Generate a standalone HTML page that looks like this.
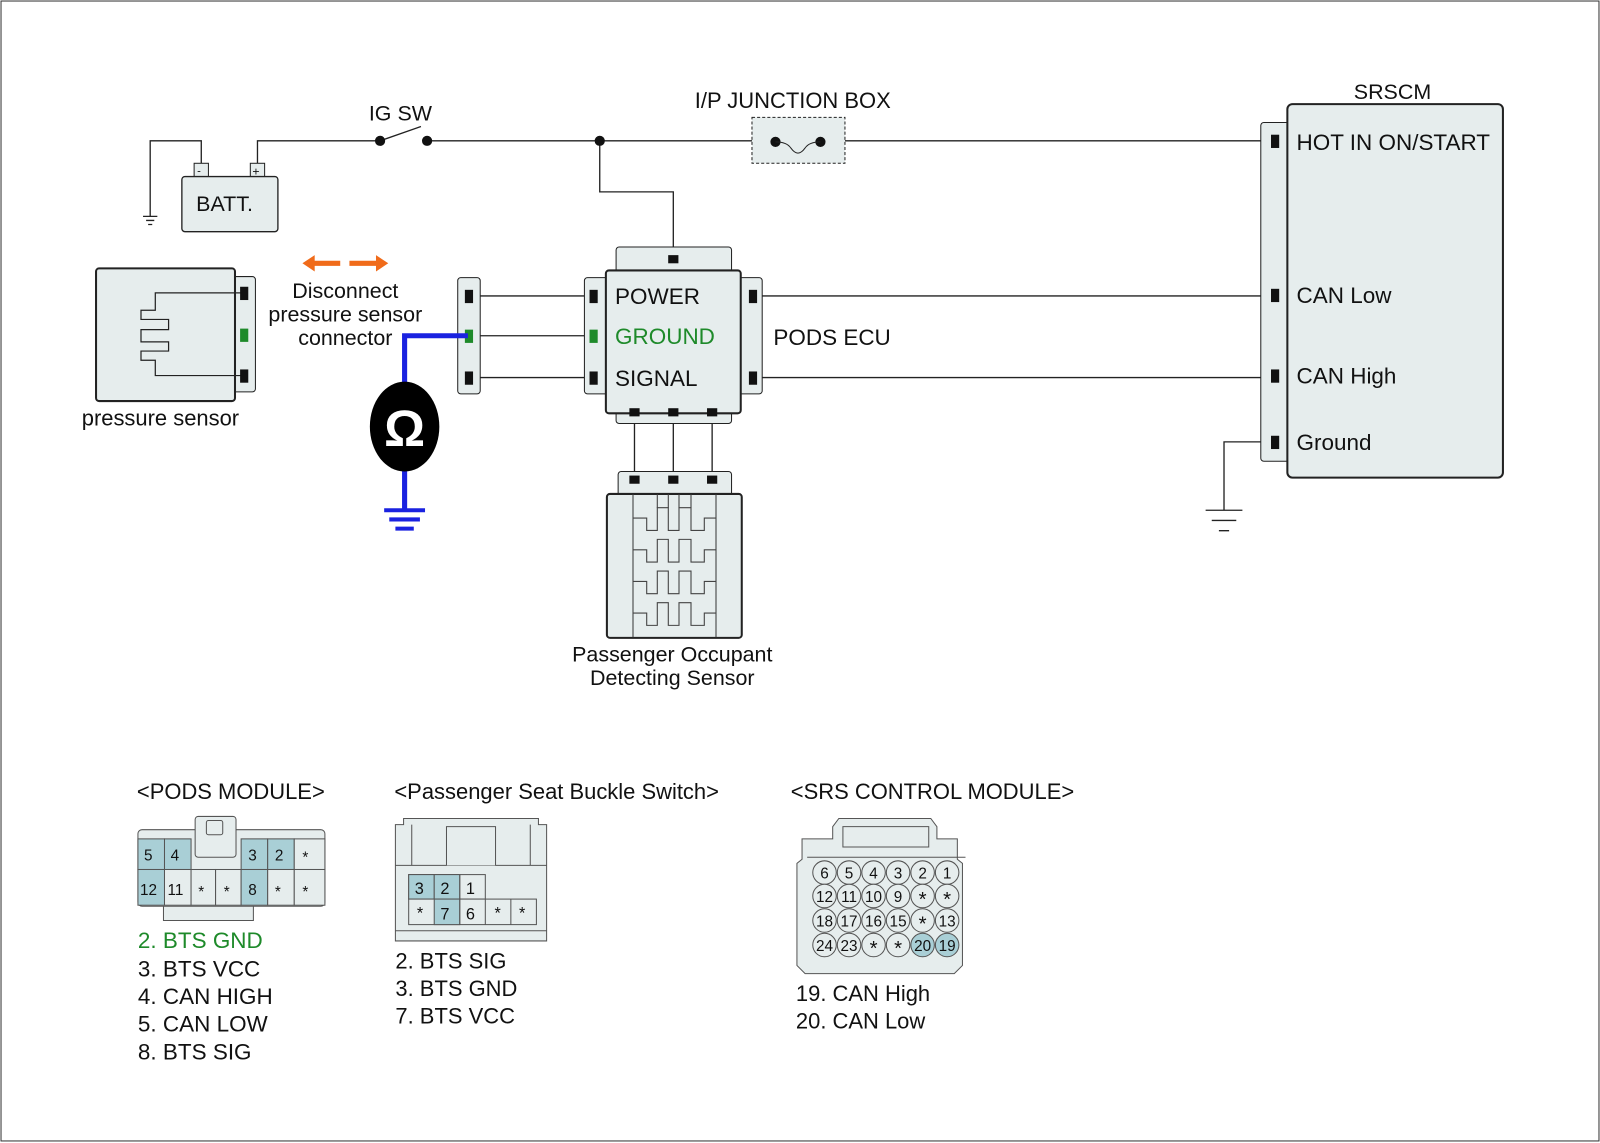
<!DOCTYPE html>
<html><head><meta charset="utf-8"><style>html,body{margin:0;padding:0;background:#fff}svg{display:block}text{font-family:"Liberation Sans",sans-serif;fill:#111}</style></head><body>
<svg width="1600" height="1143" viewBox="0 0 1566 1120" preserveAspectRatio="none" xmlns="http://www.w3.org/2000/svg">
<rect x="1" y="1" width="1564" height="1117" fill="#fff" stroke="#333" stroke-width="1"/>
<g stroke="#222" stroke-width="1.3" fill="none">
<path d="M197 160V138H147V212"/><path d="M140 212h14M143 216h8M145 220h4"/>
<path d="M252 160V138H372"/><path d="M372 138L412 124"/>
<path d="M418 138H736"/><path d="M827 138H1240"/>
<path d="M587 138V188H659V250"/>
<path d="M470 290H580M470 329H580M470 370H580"/>
<path d="M746 290H1240M746 370H1240"/>
<path d="M1248 433H1198V500"/><path d="M1180 500h36M1186 510h24M1193 520h10"/>
<path d="M621 404V470M659 404V470M697 404V470"/>
</g>
<!-- battery -->
<rect x="190" y="160" width="14" height="14" fill="#e6eded" stroke="#222"/><rect x="245" y="160" width="14" height="14" fill="#e6eded" stroke="#222"/>
<text x="193" y="171" font-size="11">-</text><text x="247" y="172" font-size="12">+</text>
<rect x="178" y="173" width="94" height="54" rx="3" fill="#e6eded" stroke="#222" stroke-width="1.3"/>
<text x="192" y="207" font-size="21">BATT.</text>
<circle cx="372" cy="138" r="5" fill="#111"/><circle cx="418" cy="138" r="5" fill="#111"/><circle cx="587" cy="138" r="5" fill="#111"/>
<text x="361" y="118" font-size="21">IG SW</text>
<text x="680" y="106" font-size="21.5">I/P JUNCTION BOX</text>
<rect x="736" y="115" width="91" height="45" fill="#e6eded" stroke="#222" stroke-dasharray="3,2"/>
<circle cx="759" cy="139" r="5" fill="#111"/><circle cx="803" cy="139" r="5" fill="#111"/>
<path d="M759 139 Q770 139 774 145 Q781 155 788 145 Q792 139 803 139" stroke="#222" fill="none"/>
<!-- SRSCM -->
<text x="1325" y="97" font-size="21">SRSCM</text>
<rect x="1234" y="120" width="30" height="332" rx="3" fill="#e6eded" stroke="#222"/>
<rect x="1260" y="102" width="211" height="366" rx="5" fill="#e6eded" stroke="#222" stroke-width="2"/>
<g fill="#111"><rect x="1244" y="132" width="8" height="13"/><rect x="1244" y="283" width="8" height="13"/><rect x="1244" y="362" width="8" height="13"/><rect x="1244" y="427" width="8" height="13"/></g>
<g font-size="22"><text x="1269" y="147">HOT IN ON/START</text><text x="1269" y="297">CAN Low</text><text x="1269" y="376">CAN High</text><text x="1269" y="441">Ground</text></g>
<!-- PODS ECU -->
<rect x="603" y="242" width="113" height="30" rx="3" fill="#e6eded" stroke="#222"/>
<rect x="572" y="272" width="30" height="114" rx="3" fill="#e6eded" stroke="#222"/>
<rect x="716" y="272" width="30" height="114" rx="3" fill="#e6eded" stroke="#222"/>
<rect x="603" y="395" width="113" height="20" rx="3" fill="#e6eded" stroke="#222"/>
<rect x="593" y="265" width="132" height="140" rx="3" fill="#e6eded" stroke="#222" stroke-width="2"/>
<g fill="#111"><rect x="654" y="250" width="10" height="8"/><rect x="577" y="284" width="8" height="13"/><rect x="577" y="364" width="8" height="13"/><rect x="733" y="284" width="8" height="13"/><rect x="733" y="364" width="8" height="13"/><rect x="616" y="400" width="10" height="8"/><rect x="654" y="400" width="10" height="8"/><rect x="692" y="400" width="10" height="8"/></g>
<rect x="577" y="323" width="8" height="13" fill="#1e8a2a"/>
<text x="602" y="298" font-size="22">POWER</text><text x="602" y="337" font-size="22" style="fill:#1e8a2a">GROUND</text><text x="602" y="378" font-size="22">SIGNAL</text>
<text x="757" y="338" font-size="22">PODS ECU</text>
<!-- occupant sensor -->
<rect x="605" y="462" width="111" height="26" rx="3" fill="#e6eded" stroke="#222"/>
<g fill="#111"><rect x="616" y="466" width="10" height="8"/><rect x="654" y="466" width="10" height="8"/><rect x="692" y="466" width="10" height="8"/></g>
<rect x="594" y="484" width="132" height="141" rx="3" fill="#e6eded" stroke="#222" stroke-width="2"/>
<g transform="scale(0.97875)" stroke="#444" fill="none" stroke-width="1.1">
<path d="M633 495V638M716 495V638"/>
<path d="M657.3 495V508.3M668.3 495V508.3M679 495V508.3M691 495V508.3"/>
<path id="row" d="M633 518.7H646.7V531H657.3V508.3H668.3V531H679V508.3H691V531H704.3V518.7H716"/>
<use href="#row" y="31.7"/><use href="#row" y="63.4"/><use href="#row" y="95.1"/>
</g>
<text x="658" y="648" font-size="21" text-anchor="middle">Passenger Occupant</text><text x="658" y="671" font-size="21" text-anchor="middle">Detecting Sensor</text>
<!-- pressure sensor -->
<rect x="220" y="271" width="30" height="113" rx="3" fill="#e6eded" stroke="#222"/>
<rect x="94" y="263" width="136" height="130" rx="3" fill="#e6eded" stroke="#222" stroke-width="2"/>
<path d="M236 287H152V304H138V313H165V323H138V335H165V344H138V353H152V368H236" stroke="#222" fill="none" stroke-width="1.2"/>
<rect x="235" y="281" width="8" height="13" fill="#111"/><rect x="235" y="322" width="8" height="13" fill="#1e8a2a"/><rect x="235" y="362" width="8" height="13" fill="#111"/>
<text x="80" y="417" font-size="21.5">pressure sensor</text>
<!-- mid connector -->
<rect x="448" y="272" width="22" height="114" rx="3" fill="#e6eded" stroke="#222"/>
<rect x="455" y="284" width="8" height="13" fill="#111"/><rect x="455" y="323" width="8" height="13" fill="#1e8a2a"/><rect x="455" y="364" width="8" height="13" fill="#111"/>
<!-- orange arrows -->
<path d="M305 258h28M342 258h28" stroke="#f06b1a" stroke-width="5"/>
<path d="M296 258l12-8v16z M380 258l-12-8v16z" fill="#f06b1a"/>
<text x="338" y="292" font-size="21" text-anchor="middle">Disconnect</text><text x="338" y="315" font-size="21" text-anchor="middle">pressure sensor</text><text x="338" y="338" font-size="21" text-anchor="middle">connector</text>
<!-- blue meter -->
<path d="M458 329H396V500" stroke="#1a22e0" stroke-width="5" fill="none"/>
<path d="M376 500h40M381 509h30M387 518h18" stroke="#1a22e0" stroke-width="4"/>
<ellipse cx="396" cy="418" rx="34" ry="44" fill="#000"/>
<text x="396" y="437" font-size="50" font-weight="bold" text-anchor="middle" style="fill:#fff">Ω</text>
<!-- bottom connectors -->
<g font-size="21.5"><text x="134" y="783">&lt;PODS MODULE&gt;</text><text x="386" y="783">&lt;Passenger Seat Buckle Switch&gt;</text><text x="774" y="783">&lt;SRS CONTROL MODULE&gt;</text></g>
<!-- pods module -->
<g stroke="#555" stroke-width="1">
<path d="M160 888v14h88v-14" fill="#e6eded"/>
<rect x="135" y="813" width="183" height="75" rx="4" fill="#e6eded"/>
<rect x="191" y="800" width="40" height="40" rx="3" fill="#e6eded"/>
<rect x="202" y="804" width="16" height="14" rx="2" fill="#e6eded"/>
<rect x="135" y="822" width="26" height="30" fill="#a9cfd6"/><rect x="161" y="822" width="26" height="30" fill="#a9cfd6"/>
<rect x="135" y="852" width="26" height="35" fill="#a9cfd6"/><rect x="161" y="852" width="26" height="35" fill="#e6eded"/>
<rect x="187" y="852" width="24" height="35" fill="#e6eded"/><rect x="211" y="852" width="25" height="35" fill="#e6eded"/>
<rect x="236" y="822" width="26" height="30" fill="#a9cfd6"/><rect x="262" y="822" width="26" height="30" fill="#a9cfd6"/><rect x="288" y="822" width="30" height="30" fill="#e6eded"/>
<rect x="236" y="852" width="26" height="35" fill="#a9cfd6"/><rect x="262" y="852" width="26" height="35" fill="#e6eded"/><rect x="288" y="852" width="30" height="35" fill="#e6eded"/>
</g>
<g font-size="15"><text x="141" y="843">5</text><text x="167" y="843">4</text><text x="243" y="843">3</text><text x="269" y="843">2</text><text x="296" y="845">*</text>
<text x="137" y="877">12</text><text x="164" y="877">11</text><text x="194" y="879">*</text><text x="219" y="879">*</text><text x="243" y="877">8</text><text x="269" y="879">*</text><text x="296" y="879">*</text></g>
<g font-size="22"><text x="135" y="929" style="fill:#1e8a2a">2. BTS GND</text><text x="135" y="957">3. BTS VCC</text><text x="135" y="984">4. CAN HIGH</text><text x="135" y="1011">5. CAN LOW</text><text x="135" y="1038">8. BTS SIG</text></g>
<!-- buckle switch -->
<g stroke="#555" stroke-width="1" fill="#e6eded">
<path d="M387 922V808h8v-6h132v6h8v114z"/>
<path d="M387 848H535"/><path d="M403 808v40M519 808v40M437 848v-38h48v38"/>
<rect x="400" y="857" width="75" height="24" fill="#e6eded"/>
<rect x="400" y="857" width="25" height="24" fill="#a9cfd6"/><rect x="425" y="857" width="25" height="24" fill="#a9cfd6"/>
<rect x="400" y="881" width="125" height="25"/><rect x="425" y="881" width="25" height="25" fill="#a9cfd6"/>
<path d="M450 857v49M475 881v25M500 881v25M387 912H535"/>
</g>
<g font-size="16"><text x="406" y="876">3</text><text x="431" y="876">2</text><text x="456" y="876">1</text><text x="408" y="900">*</text><text x="431" y="901">7</text><text x="456" y="901">6</text><text x="484" y="900">*</text><text x="508" y="900">*</text></g>
<g font-size="21.5"><text x="387" y="949">2. BTS SIG</text><text x="387" y="976">3. BTS GND</text><text x="387" y="1003">7. BTS VCC</text></g>
<!-- SRS control module -->
<g stroke="#555" stroke-width="1" fill="#e6eded">
<path d="M815 810l6-8h90l6 8v12h20v20l5 4v100l-8 8h-146l-8-8v-100l5-4v-20h30z"/>
<path d="M825 810h84v20h-84z"/><path d="M790 840H945"/>
</g>
<g font-size="15" text-anchor="middle">
<g stroke="#555" stroke-width="1" fill="#e6eded">
<circle cx="807" cy="855" r="11.5"/><circle cx="831" cy="855" r="11.5"/><circle cx="855" cy="855" r="11.5"/><circle cx="879" cy="855" r="11.5"/><circle cx="903" cy="855" r="11.5"/><circle cx="927" cy="855" r="11.5"/>
<circle cx="807" cy="878" r="11.5"/><circle cx="831" cy="878" r="11.5"/><circle cx="855" cy="878" r="11.5"/><circle cx="879" cy="878" r="11.5"/><circle cx="903" cy="878" r="11.5"/><circle cx="927" cy="878" r="11.5"/>
<circle cx="807" cy="902" r="11.5"/><circle cx="831" cy="902" r="11.5"/><circle cx="855" cy="902" r="11.5"/><circle cx="879" cy="902" r="11.5"/><circle cx="903" cy="902" r="11.5"/><circle cx="927" cy="902" r="11.5"/>
<circle cx="807" cy="926" r="11.5"/><circle cx="831" cy="926" r="11.5"/><circle cx="855" cy="926" r="11.5"/><circle cx="879" cy="926" r="11.5"/><circle cx="903" cy="926" r="11.5" fill="#a9cfd6"/><circle cx="927" cy="926" r="11.5" fill="#a9cfd6"/>
</g>
<text x="807" y="861">6</text><text x="831" y="861">5</text><text x="855" y="861">4</text><text x="879" y="861">3</text><text x="903" y="861">2</text><text x="927" y="861">1</text>
<text x="807" y="884">12</text><text x="831" y="884">11</text><text x="855" y="884">10</text><text x="879" y="884">9</text><text x="903" y="888" font-size="20">*</text><text x="927" y="888" font-size="20">*</text>
<text x="807" y="908">18</text><text x="831" y="908">17</text><text x="855" y="908">16</text><text x="879" y="908">15</text><text x="903" y="912" font-size="20">*</text><text x="927" y="908">13</text>
<text x="807" y="932">24</text><text x="831" y="932">23</text><text x="855" y="936" font-size="20">*</text><text x="879" y="936" font-size="20">*</text><text x="903" y="932">20</text><text x="927" y="932">19</text>
</g>
<g font-size="21.5"><text x="779" y="981">19. CAN High</text><text x="779" y="1008">20. CAN Low</text></g>
</svg>
</body></html>
